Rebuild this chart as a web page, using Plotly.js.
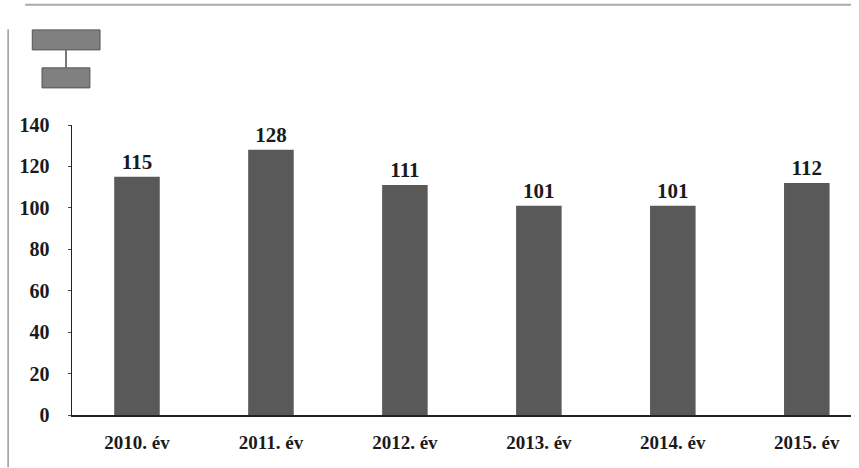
<!DOCTYPE html>
<html>
<head>
<meta charset="utf-8">
<script src="https://cdn.plot.ly/plotly-3.0.1.min.js"></script>
<style>html,body{margin:0;padding:0;background:#fff;}#chart{width:859px;height:468px;}</style>
</head>
<body>
<div id="chart"></div>
<script>
const categories = ["2010. év", "2011. év", "2012. év", "2013. év", "2014. év", "2015. év"];
const values = [115, 128, 111, 101, 101, 112];
const yTicks = [0, 20, 40, 60, 80, 100, 120, 140];

const trace = {
  type: 'bar',
  x: categories,
  y: values,
  text: values.map(String),
  textposition: 'outside',
  cliponaxis: false,
  textfont: {family: 'Liberation Serif', size: 21, color: '#1a1a1a', weight: 'bold'},
  marker: {color: '#595959'},
  width: 0.34,
  hoverinfo: 'none'
};

const layout = {
  width: 859, height: 468,
  margin: {l: 72, r: 8, t: 125, b: 53},
  paper_bgcolor: '#ffffff',
  plot_bgcolor: '#ffffff',
  showlegend: false,
  font: {family: 'Liberation Serif', color: '#1a1a1a'},
  xaxis: {
    type: 'category',
    range: [-0.485, 5.33],
    showgrid: false,
    zeroline: false,
    showline: true, linecolor: '#222', linewidth: 1.5,
    ticks: '',
    tickfont: {family: 'Liberation Serif', size: 19, color: '#1a1a1a', weight: 'bold'},
    ticklabelstandoff: 10
  },
  yaxis: {
    range: [0, 140],
    tickvals: yTicks,
    ticktext: yTicks.map(String),
    showgrid: false,
    zeroline: false,
    showline: true, linecolor: '#222', linewidth: 1.5,
    ticks: 'outside', ticklen: 3, tickcolor: '#444',
    tickfont: {family: 'Liberation Serif', size: 20, color: '#1a1a1a', weight: 'bold'},
    ticklabelstandoff: 14
  },
  shapes: [
    {type: 'line', xref: 'paper', yref: 'paper', x0: -0.082, x1: -0.082, y0: -0.18, y1: 1.33, line: {color: '#999', width: 1.5}},
    {type: 'line', xref: 'paper', yref: 'paper', x0: -0.06, x1: 1.0, y0: 1.415, y1: 1.415, line: {color: '#aaa', width: 2}},
    {type: 'rect', xref: 'paper', yref: 'paper', x0: -0.051, x1: 0.036, y0: 1.259, y1: 1.328, fillcolor: '#808080', line: {color: '#555', width: 1}},
    {type: 'line', xref: 'paper', yref: 'paper', x0: -0.0077, x1: -0.0077, y0: 1.259, y1: 1.197, line: {color: '#777', width: 2}},
    {type: 'rect', xref: 'paper', yref: 'paper', x0: -0.0385, x1: 0.023, y0: 1.128, y1: 1.197, fillcolor: '#808080', line: {color: '#555', width: 1}}
  ]
};

Plotly.newPlot('chart', [trace], layout, {displayModeBar: false, staticPlot: true});
</script>
</body>
</html>
